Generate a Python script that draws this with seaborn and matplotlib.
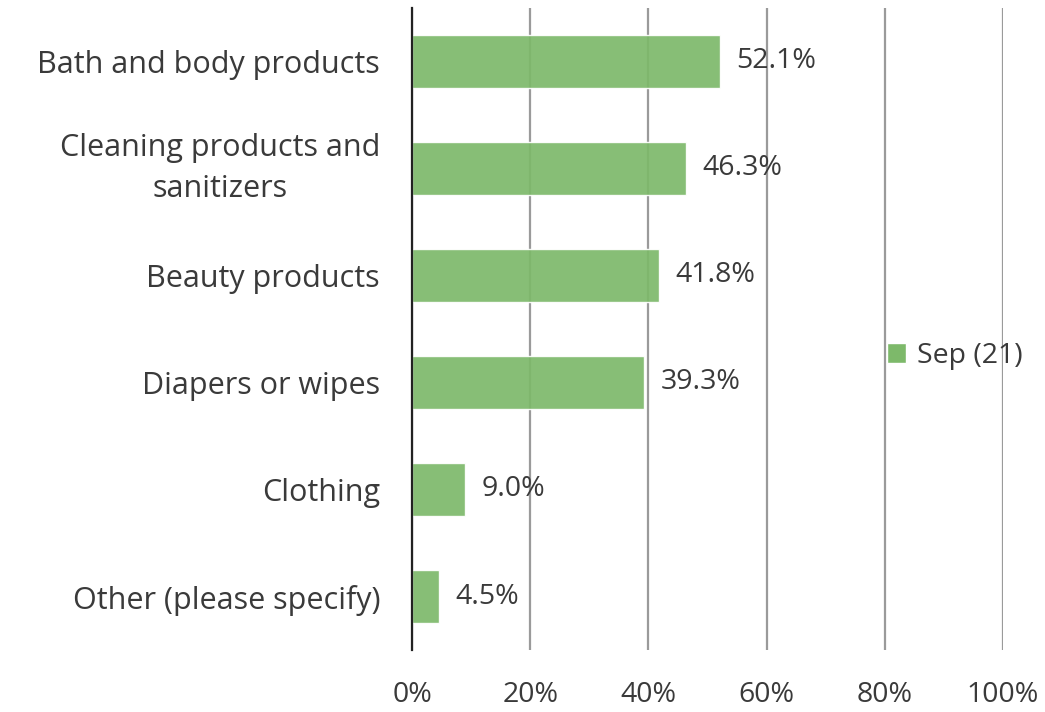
import matplotlib
matplotlib.use("Agg")
import matplotlib.pyplot as plt
import seaborn as sns
import pandas as pd
from matplotlib.patches import Patch

categories = [
    "Bath and body products",
    "Cleaning products and\nsanitizers",
    "Beauty products",
    "Diapers or wipes",
    "Clothing",
    "Other (please specify)",
]
values = [52.1, 46.3, 41.8, 39.3, 9.0, 4.5]
series_name = "Sep (21)"
x_ticks = [0, 20, 40, 60, 80, 100]

bar_color = "#7DB96A"
text_color = "#3a3a3a"
fs = 20.5
fs_cat = 22

sns.set_theme(style="white")
plt.rcParams["font.family"] = ["Open Sans", "DejaVu Sans"]

df = pd.DataFrame({"category": categories, "value": values})

fig = plt.figure(figsize=(10.45, 7.12), dpi=100)
ax = fig.add_axes([412 / 1045, 1 - 650 / 712, (1003 - 412) / 1045, (650 - 8) / 712])

sns.barplot(data=df, x="value", y="category", orient="h", color=bar_color,
            width=0.5, saturation=1, alpha=0.92, ax=ax, zorder=2)

ax.set_xlim(0, 100)
ax.set_ylim(5.5, -0.5)
ax.set_xticks(x_ticks)
ax.set_xticklabels([f"{t}%" for t in x_ticks], fontsize=fs, color=text_color)
ax.tick_params(axis="x", length=0, pad=22)
ax.tick_params(axis="y", length=0, pad=23)
for lbl in ax.get_yticklabels():
    lbl.set_fontsize(fs_cat)
    lbl.set_color(text_color)
    lbl.set_multialignment("center")
    lbl.set_linespacing(1.45)
    if "\n" in lbl.get_text():
        lbl.set_verticalalignment("center")

ax.set_xlabel("")
ax.set_ylabel("")
ax.grid(axis="x", color="#9a9a9a", linewidth=1.6, zorder=1)
ax.set_axisbelow(True)
for side in ["top", "right", "bottom"]:
    ax.spines[side].set_visible(False)
ax.spines["left"].set_color("#222222")
ax.spines["left"].set_linewidth(1.6)
ax.spines["left"].set_zorder(3)

for i, v in enumerate(values):
    ax.text(v + 2.8, i, f"{v:.1f}%", va="center", ha="left",
            fontsize=fs, color=text_color, zorder=4)

fig.legend(handles=[Patch(facecolor=bar_color, label=series_name)],
           loc="center left", bbox_to_anchor=(887 / 1045, 1 - 356 / 712),
           frameon=False, fontsize=fs, handlelength=0.65, handleheight=0.65,
           handletextpad=0.4, borderpad=0, borderaxespad=0,
           labelcolor=text_color)

fig.savefig("out.png", dpi=100)
